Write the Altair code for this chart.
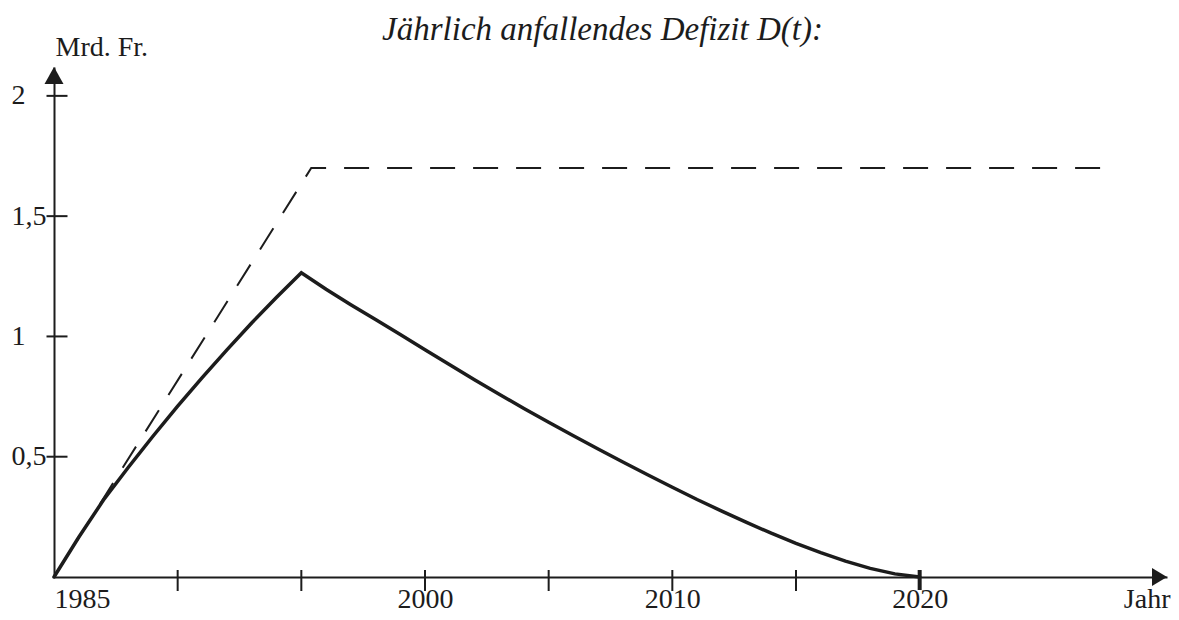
import altair as alt
import pandas as pd

# ---- data ----
SOLID_YEARS = [1985, 1986, 1987, 1988, 1989, 1990, 1991, 1992, 1993, 1994, 1995,
               1996, 1997, 1998, 1999, 2000, 2001, 2002, 2003, 2004, 2005,
               2006, 2007, 2008, 2009, 2010, 2011, 2012, 2013, 2014, 2015,
               2016, 2017, 2018, 2019, 2020]
SOLID_VALUES = [0.0, 0.165, 0.32, 0.455, 0.585, 0.71, 0.83, 0.945, 1.057, 1.163, 1.265,
                1.196, 1.132, 1.07, 1.008, 0.945, 0.882, 0.82, 0.76, 0.70, 0.643,
                0.587, 0.532, 0.478, 0.425, 0.373, 0.322, 0.274, 0.227, 0.182, 0.14,
                0.101, 0.066, 0.036, 0.013, 0.0]
DASH_YEARS = [1985, 1995.4, 2027.8]
DASH_VALUES = [0.0, 1.7, 1.7]

X_LABEL_YEARS = [1985, 2000, 2010, 2020]
X_TICK_YEARS = [1990, 1995, 2000, 2005, 2010, 2015]
END_TICK_YEARS = [2020]
Y_TICK_VALUES = [0.5, 1, 1.5, 2]
X_DOMAIN = [1985, 2030]
Y_DOMAIN = [0, 2.12]

TITLE = "Jährlich anfallendes Defizit D(t):"
Y_TITLE = "Mrd. Fr."
X_TITLE = "Jahr"

FONT = "Liberation Serif"
INK = "#1c1c1c"

# ---- tables ----
solid_df = pd.DataFrame({"year": SOLID_YEARS, "value": SOLID_VALUES})
dash_df = pd.DataFrame({"year": DASH_YEARS, "value": DASH_VALUES})
xtick_df = pd.DataFrame({"year": X_TICK_YEARS, "value": [Y_DOMAIN[0]] * len(X_TICK_YEARS)})
endtick_df = pd.DataFrame({"year": END_TICK_YEARS, "value": [Y_DOMAIN[0]] * len(END_TICK_YEARS)})
ytick_df = pd.DataFrame({"year": [X_DOMAIN[0]] * len(Y_TICK_VALUES), "value": Y_TICK_VALUES})
yarrow_df = pd.DataFrame({"year": [X_DOMAIN[0]], "value": [Y_DOMAIN[1]]})
xarrow_df = pd.DataFrame({"year": [X_DOMAIN[1]], "value": [Y_DOMAIN[0]]})

x_axis = alt.Axis(
    values=X_LABEL_YEARS, format="d", ticks=False, tickSize=0, grid=False,
    domainColor=INK, domainWidth=2,
    labelFont=FONT, labelFontSize=28, labelColor=INK,
    labelBaseline="alphabetic", labelPadding=30, labelOverlap=False,
    title=X_TITLE, titleX=1116, titleY=30, titleAlign="right",
    titleBaseline="alphabetic", titleFont=FONT, titleFontSize=28,
    titleFontWeight="normal", titleColor=INK,
)
y_axis = alt.Axis(
    values=Y_TICK_VALUES,
    labelExpr="replace(format(datum.value, '~g'), '.', ',')",
    ticks=False, tickSize=0, grid=False,
    domainColor=INK, domainWidth=2,
    labelFont=FONT, labelFontSize=28, labelColor=INK,
    labelAlign="left", labelBaseline="middle", labelPadding=43,
    labelFlush=False, labelOverlap=False,
    title=Y_TITLE, titleAngle=0, titleAlign="left", titleBaseline="alphabetic",
    titleX=1, titleY=-12, titleFont=FONT, titleFontSize=28,
    titleFontWeight="normal", titleColor=INK,
)


def enc(chart):
    return chart.encode(
        x=alt.X("year:Q", scale=alt.Scale(domain=X_DOMAIN, nice=False, zero=False), axis=x_axis),
        y=alt.Y("value:Q", scale=alt.Scale(domain=Y_DOMAIN, nice=False), axis=y_axis),
    )


dashed = enc(alt.Chart(dash_df).mark_line(
    color=INK, strokeWidth=2, strokeDash=[25, 18]))
solid = enc(alt.Chart(solid_df).mark_line(
    color=INK, strokeWidth=3.5, strokeJoin="miter", strokeCap="round"))
xticks = enc(alt.Chart(xtick_df).mark_tick(
    orient="vertical", size=21, thickness=2, yOffset=3.5, color=INK, opacity=1))
endtick = enc(alt.Chart(endtick_df).mark_tick(
    orient="vertical", size=20, thickness=4, yOffset=3, color=INK, opacity=1))
yticks = enc(alt.Chart(ytick_df).mark_tick(
    orient="horizontal", size=21, thickness=2, xOffset=3, color=INK, opacity=1))
yarrow = enc(alt.Chart(yarrow_df).mark_point(
    shape="M0,0L0.95,1.7L-0.95,1.7Z", size=400, filled=True,
    color=INK, opacity=1, strokeWidth=0))
xarrow = enc(alt.Chart(xarrow_df).mark_point(
    shape="M0,0L-1.5,-0.9L-1.5,0.9Z", size=400, filled=True,
    color=INK, opacity=1, strokeWidth=0))

chart = alt.layer(dashed, solid, xticks, endtick, yticks, yarrow, xarrow).properties(
    width=1113,
    height=510,
    background="white",
    autosize=alt.AutoSizeParams(type="none"),
    padding={"left": 46, "top": 59, "right": 4, "bottom": 35},
    title=alt.Title(
        TITLE, font=FONT, fontSize=33, fontStyle="italic", fontWeight="normal",
        color=INK, anchor="middle", frame="group", baseline="alphabetic",
        offset=-40, dx=-8,
    ),
).configure_view(strokeWidth=0, stroke="transparent")

chart.save("out.html", embed_options={"renderer": "svg", "actions": False})
